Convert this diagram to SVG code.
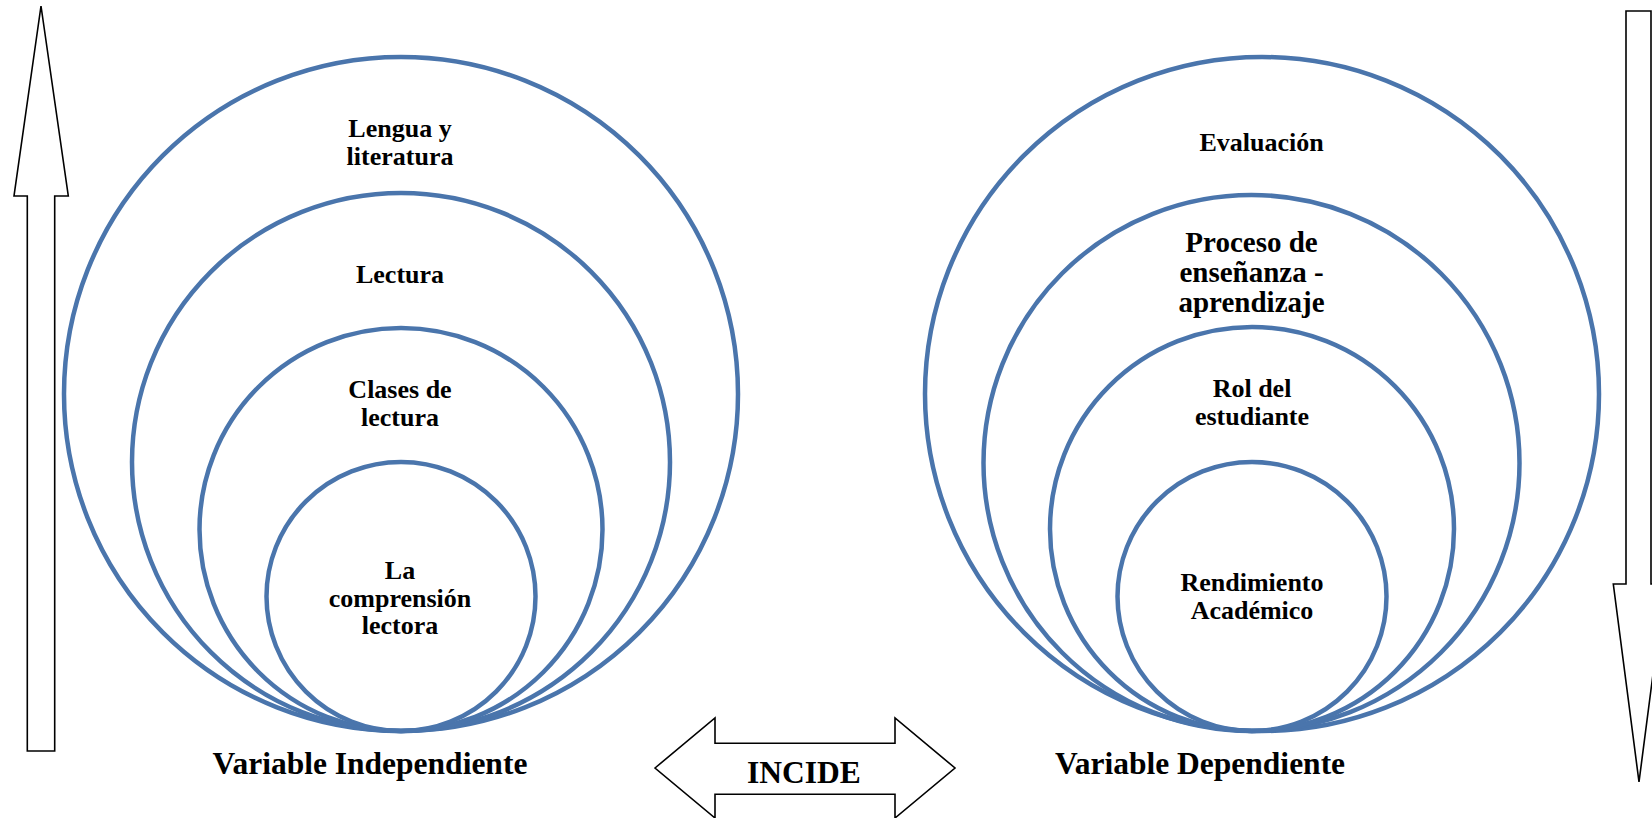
<svg xmlns="http://www.w3.org/2000/svg" width="1652" height="818" viewBox="0 0 1652 818">
<style>
.ring{fill:none;stroke:#4A75AC;stroke-width:4.5}
.arr{fill:#fff;stroke:#000;stroke-width:1.6;stroke-linejoin:miter}
text{font-family:"Liberation Serif","Times New Roman",serif;font-weight:bold;fill:#000;text-anchor:middle}
.t{font-size:26px}
.t2{font-size:29px}
.lbl{font-size:31.5px}
</style>
<rect width="1652" height="818" fill="#fff"/>
<g id="left-rings">
  <g id="lengua-literatura">
    <circle class="ring" cx="401" cy="394" r="337"/>
    <text class="t" x="400" y="137">Lengua y</text>
    <text class="t" x="400" y="165">literatura</text>
  </g>
  <g id="lectura">
    <circle class="ring" cx="401" cy="462" r="269"/>
    <text class="t" x="400" y="283">Lectura</text>
  </g>
  <g id="clases-lectura">
    <circle class="ring" cx="401" cy="529.5" r="201.5"/>
    <text class="t" x="400" y="398">Clases de</text>
    <text class="t" x="400" y="426">lectura</text>
  </g>
  <g id="comprension-lectora">
    <circle class="ring" cx="401" cy="596.5" r="134.5"/>
    <text class="t" x="400" y="579">La</text>
    <text class="t" x="400" y="606.5">comprensión</text>
    <text class="t" x="400" y="633.5">lectora</text>
  </g>
</g>
<g id="right-rings">
  <g id="evaluacion">
    <circle class="ring" cx="1262" cy="394" r="337"/>
    <text class="t" x="1261.5" y="151">Evaluación</text>
  </g>
  <g id="proceso">
    <circle class="ring" cx="1251.5" cy="463" r="268"/>
    <text class="t2" x="1251.5" y="252">Proceso de</text>
    <text class="t2" x="1251.5" y="282">enseñanza -</text>
    <text class="t2" x="1251.5" y="312">aprendizaje</text>
  </g>
  <g id="rol-estudiante">
    <circle class="ring" cx="1252" cy="529" r="202"/>
    <text class="t" x="1252" y="397">Rol del</text>
    <text class="t" x="1252" y="425">estudiante</text>
  </g>
  <g id="rendimiento">
    <circle class="ring" cx="1252" cy="596.5" r="134.5"/>
    <text class="t" x="1252" y="591">Rendimiento</text>
    <text class="t" x="1252" y="619">Académico</text>
  </g>
</g>
<g id="labels">
  <text id="var-indep" class="lbl" x="370" y="773.5">Variable Independiente</text>
  <text id="var-dep" class="lbl" x="1200" y="774">Variable Dependiente</text>
</g>
<g id="connectors">
  <polygon id="up-arrow" class="arr" points="41,6 68.3,196 54.7,196 54.7,751 27.3,751 27.3,196 14,196"/>
  <polygon id="down-arrow" class="arr" points="1626,11 1651,11 1651,584 1664.7,584 1639,782 1613.3,584 1626,584"/>
  <g id="incide">
    <polygon class="arr" points="655,768 715,718 715,743.3 895,743.3 895,718 955,768 895,818 895,794.3 715,794.3 715,818"/>
    <text class="lbl" x="804" y="783.3">INCIDE</text>
  </g>
</g>
</svg>
